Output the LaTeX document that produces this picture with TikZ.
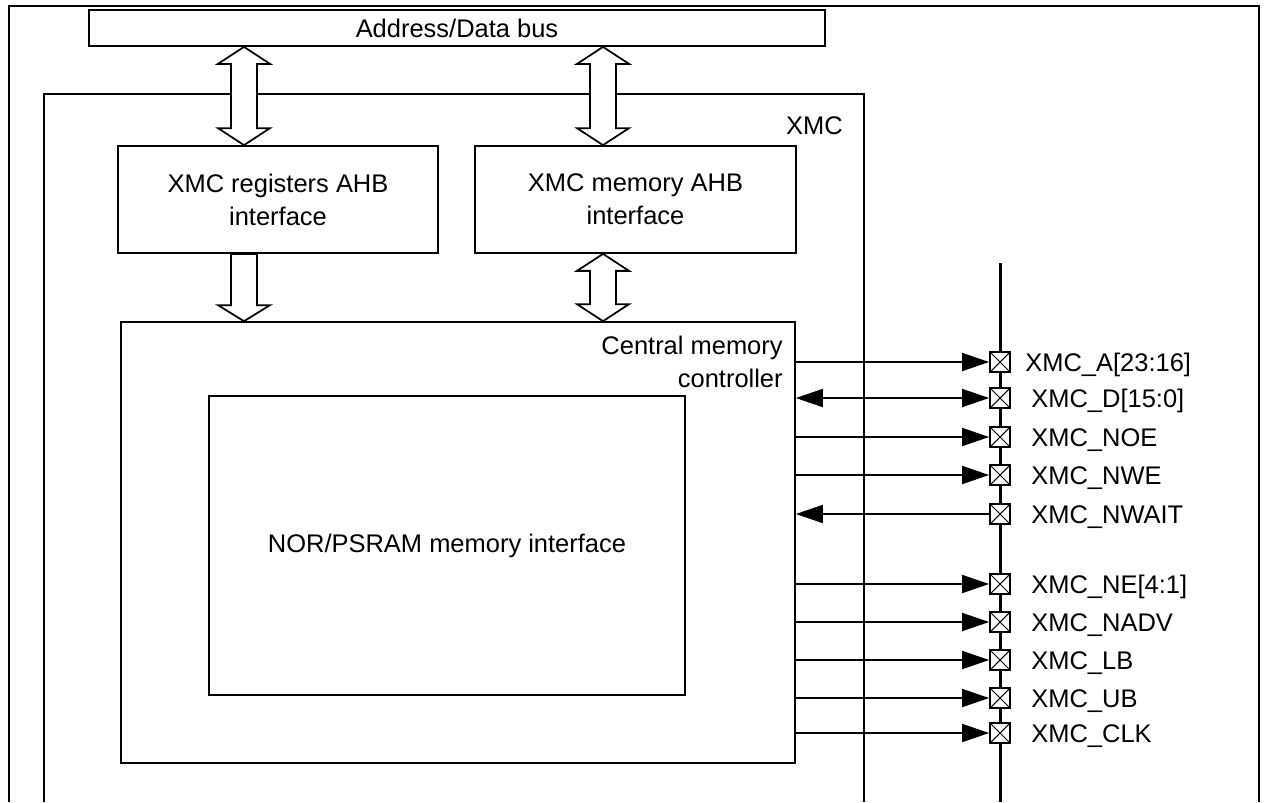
\documentclass[tikz,border=0pt]{standalone}
\usepackage{fontspec}
\setmainfont{Liberation Sans}
\usetikzlibrary{arrows.meta,calc}

\tikzset{
  blk/.style={draw,line width=1pt,inner sep=0pt,align=center},
  hollow/.style={draw,fill=white,line width=1pt,line join=miter},
  pinbox/.style={draw,fill=white,line width=1pt,minimum size=0.4cm,inner sep=0pt,
    path picture={\draw[line width=0.6pt]
      (path picture bounding box.north west)--(path picture bounding box.south east)
      (path picture bounding box.north east)--(path picture bounding box.south west);}},
  sig/.style={line width=1pt,>={Triangle[length=0.54cm,width=0.36cm]}},
  pinlbl/.style={anchor=base west,inner sep=0pt},
}

% hollow block arrows, #1 top tip, #2 bottom tip
\newcommand{\dblblk}[2]{%
  \path[hollow] (#1) -- ++(26,17) -- ++(-13,0) -- ($(#2)+(13,-17)$) -- ++(13,0) -- (#2)
    -- ++(-26,-17) -- ++(13,0) -- ($(#1)+(-13,17)$) -- ++(-13,0) -- cycle;}
\newcommand{\sglblk}[2]{%
  \path[hollow] ($(#1)+(13,0)$) -- ($(#2)+(13,-16)$) -- ++(13,0) -- (#2)
    -- ++(-26,-16) -- ++(13,0) -- ($(#1)+(-13,0)$) -- cycle;}

\begin{document}
\begin{tikzpicture}[x=0.02cm,y=-0.02cm,every node/.style={font=\fontsize{14.5}{18.8}\selectfont}]
\useasboundingbox (0,0) rectangle (1267,802);

% frames, open at the bottom
\draw[line width=1.6pt] (9,802) -- (9,6) -- (1259,6) -- (1259,802);
\draw[line width=1pt] (44,802) -- (44,94) -- (864,94) -- (864,802);
\node[anchor=base east,inner sep=0pt] (xmclbl) at (843,134) {XMC};

% blocks
\node[blk,minimum width=14.72cm,minimum height=0.72cm] (bus) at (457,28) {Address/Data bus};
\node[blk,minimum width=6.4cm,minimum height=2.14cm] (xmcregs) at (278,199.5) {XMC registers AHB\\interface};
\node[blk,minimum width=6.42cm,minimum height=2.14cm] (xmcmem) at (635.5,199.5) {XMC memory AHB\\interface};
\node[blk,minimum width=13.48cm,minimum height=8.82cm] (cmc) at (458,542.5) {};
\node[anchor=north east,align=right,inner sep=0pt] (cmclbl) at (783,336) {Central memory\\controller};
\node[blk,minimum width=9.52cm,minimum height=5.98cm] (norif) at (447,545.5) {NOR/PSRAM memory interface};

% block arrows
\coordinate (ax1) at (244,0);
\coordinate (ax2) at (603,0);
\coordinate (t1) at (bus.south -| ax1);
\coordinate (b1) at (xmcregs.north -| ax1);
\coordinate (t2) at (bus.south -| ax2);
\coordinate (b2) at (xmcmem.north -| ax2);
\coordinate (t3) at (xmcregs.south -| ax1);
\coordinate (b3) at (cmc.north -| ax1);
\coordinate (t4) at (xmcmem.south -| ax2);
\coordinate (b4) at (cmc.north -| ax2);
\dblblk{t1}{b1}
\dblblk{t2}{b2}
\sglblk{t3}{b3}
\dblblk{t4}{b4}

% external pins
\draw[line width=1.7pt] (1000,263) -- (1000,802);
\foreach \nm/\y in {A/362,D/398,NOE/437,NWE/475,NWAIT/514,NE/584,NADV/622,LB/660,UB/698,CLK/733}
  \node[pinbox] (p\nm) at (1000,\y) {};
\node[pinlbl] (lA) at (1025,371) {XMC\_A[23:16]};
\foreach \nm/\y/\txt in {D/398/{XMC\_D[15:0]},NOE/437/{XMC\_NOE},NWE/475/{XMC\_NWE},
    NWAIT/514/{XMC\_NWAIT},NE/584/{XMC\_NE[4:1]},NADV/622/{XMC\_NADV},
    LB/660/{XMC\_LB},UB/698/{XMC\_UB},CLK/733/{XMC\_CLK}}
  \node[pinlbl] (l\nm) at (1031,\y+9) {\txt};

\draw[sig,->] (cmc.east |- pA) -- (pA.west);
\draw[sig,<->] (cmc.east |- pD) -- (pD.west);
\draw[sig,->] (cmc.east |- pNOE) -- (pNOE.west);
\draw[sig,->] (cmc.east |- pNWE) -- (pNWE.west);
\draw[sig,<-] (cmc.east |- pNWAIT) -- (pNWAIT.west);
\draw[sig,->] (cmc.east |- pNE) -- (pNE.west);
\draw[sig,->] (cmc.east |- pNADV) -- (pNADV.west);
\draw[sig,->] (cmc.east |- pLB) -- (pLB.west);
\draw[sig,->] (cmc.east |- pUB) -- (pUB.west);
\draw[sig,->] (cmc.east |- pCLK) -- (pCLK.west);
\end{tikzpicture}
\end{document}
